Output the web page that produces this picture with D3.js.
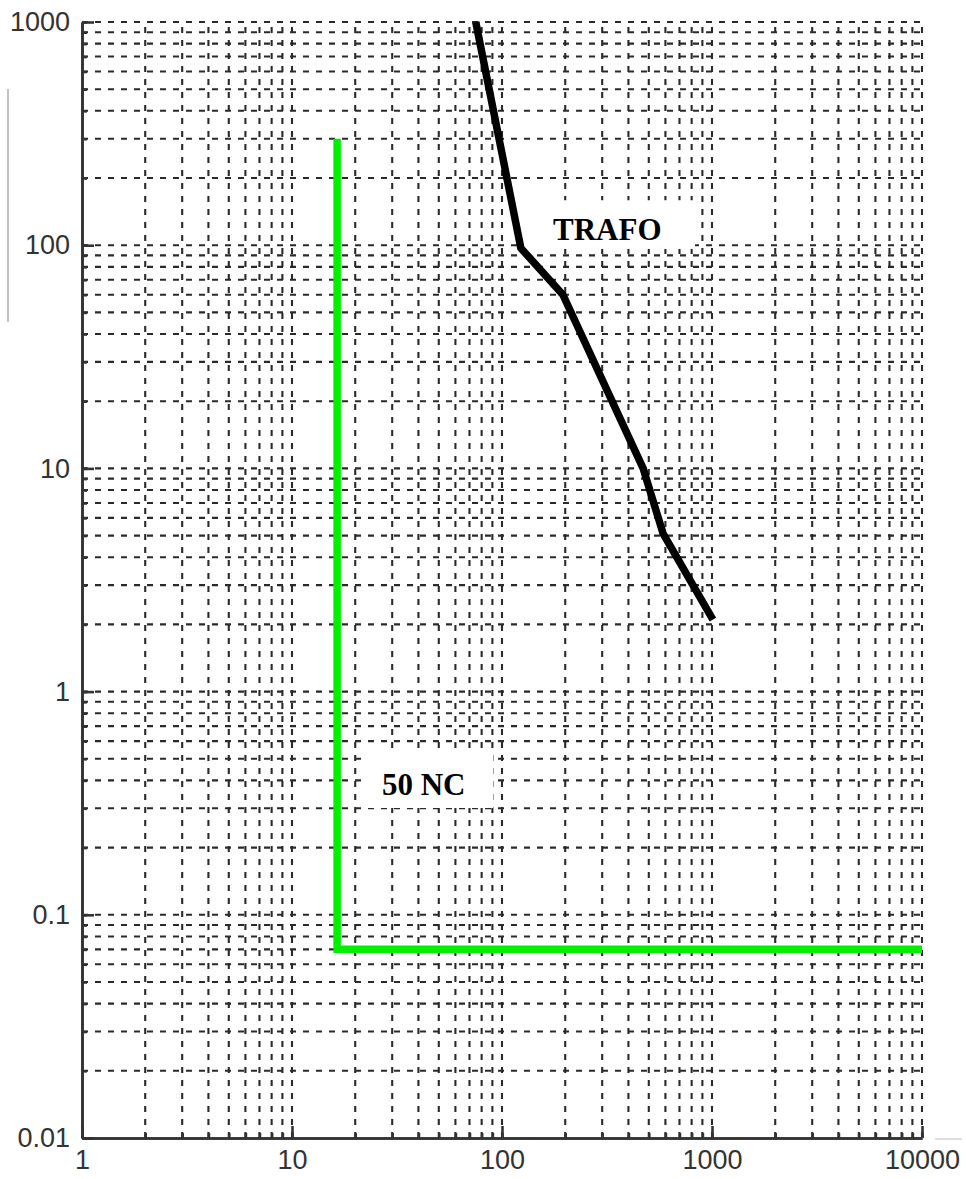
<!DOCTYPE html>
<head>
  <meta charset="utf-8">
  <title>TRAFO / 50 NC</title>
  <script src="https://d3js.org/d3.v7.min.js"></script>
  <style>
    body { margin: 0; background: #fff; }
    #chart { width: 966px; height: 1179px; display: block; }
    .grid line { stroke: #2a2a2a; stroke-width: 2.1px; stroke-dasharray: 6,7; }
    .axis path, .axis line { stroke: #333; stroke-width: 2.6px; }
    .axis text { font-family: "Liberation Sans", Arial, sans-serif; font-size: 27px; fill: #333; }
    .lbl { font-family: "Liberation Serif", "Times New Roman", serif; font-weight: bold; font-size: 31px; fill: #000; }
  </style>
</head>

<body>
  <svg id="chart"></svg>
  <script>
    // axis ticks
    var xTicks = [1, 10, 100, 1000, 10000];
    var yTicks = [0.01, 0.1, 1, 10, 100, 1000];

    // TRAFO damage curve (current, time)
    var trafoX = [75, 123, 195, 470, 585, 1010];
    var trafoY = [1000, 97, 60, 10, 5.1, 2.1];

    // 50 NC relay curve
    var ncX = [16.4, 16.4, 10000];
    var ncY = [300, 0.07, 0.07];

    var width = 966, height = 1179;
    var margin = {left: 82, right: 44, top: 22, bottom: 41};

    var svg = d3.select("#chart");

    var x = d3.scaleLog().domain([1, 10000]).range([margin.left, width - margin.right]);
    var y = d3.scaleLog().domain([0.01, 1000]).range([height - margin.bottom, margin.top]);

    // every 1..9 x 10^n between the decades
    function minors(ticks) {
      var out = [];
      for (var i = 0; i < ticks.length - 1; i++) {
        for (var k = 1; k < 10; k++) out.push(ticks[i] * k);
      }
      out.push(ticks[ticks.length - 1]);
      return out;
    }
    var xGrid = minors(xTicks);
    var yGrid = minors(yTicks);

    // dashed grid
    var grid = svg.append("g").attr("class", "grid");
    grid.selectAll(".gx").data(xGrid.slice(1)).enter().append("line")
      .attr("x1", function(d) { return x(d); })
      .attr("x2", function(d) { return x(d); })
      .attr("y1", y.range()[0])
      .attr("y2", y.range()[1]);
    grid.selectAll(".gy").data(yGrid.slice(1)).enter().append("line")
      .attr("x1", x.range()[0])
      .attr("x2", x.range()[1])
      .attr("y1", function(d) { return y(d); })
      .attr("y2", function(d) { return y(d); });

    var fmt = function(d) { return d >= 1 ? d3.format("d")(d) : String(d); };

    // minor ticks, inside
    svg.append("g").attr("class", "axis")
      .attr("transform", "translate(0," + y.range()[0] + ")")
      .call(d3.axisBottom(x).tickValues(xGrid).tickSize(-5).tickSizeOuter(0).tickFormat(""));
    svg.append("g").attr("class", "axis")
      .attr("transform", "translate(" + x.range()[0] + ",0)")
      .call(d3.axisLeft(y).tickValues(yGrid).tickSize(-5).tickSizeOuter(0).tickFormat(""));

    // major ticks + labels
    svg.append("g").attr("class", "axis")
      .attr("transform", "translate(0," + y.range()[0] + ")")
      .call(d3.axisBottom(x).tickValues(xTicks).tickSize(-12).tickSizeOuter(0).tickPadding(12).tickFormat(fmt));
    svg.append("g").attr("class", "axis")
      .attr("transform", "translate(" + x.range()[0] + ",0)")
      .call(d3.axisLeft(y).tickValues(yTicks).tickSize(-12).tickSizeOuter(0).tickPadding(12).tickFormat(fmt));

    // stray scan marks of the original figure
    svg.append("line").attr("x1", 8).attr("x2", 8).attr("y1", 89).attr("y2", 322)
      .attr("stroke", "#999").attr("stroke-width", 1.2);
    svg.append("line").attr("x1", 935).attr("x2", 962).attr("y1", 1139).attr("y2", 1139)
      .attr("stroke", "#bbb").attr("stroke-width", 1);

    // white label boxes
    function box(x0, x1, y0, y1) {
      svg.append("rect")
        .attr("x", x(x0)).attr("y", y(y0))
        .attr("width", x(x1) - x(x0)).attr("height", y(y1) - y(y0))
        .attr("fill", "#fff");
    }
    box(124.5, 830, 159, 96.2);
    box(21.5, 90.6, 0.525, 0.301);

    var line = d3.line()
      .x(function(d) { return x(d[0]); })
      .y(function(d) { return y(d[1]); });

    svg.append("path")
      .datum(d3.zip(ncX, ncY))
      .attr("d", line)
      .attr("fill", "none")
      .attr("stroke", "#00f000")
      .attr("stroke-width", 7.5);

    svg.append("path")
      .datum(d3.zip(trafoX, trafoY))
      .attr("d", line)
      .attr("fill", "none")
      .attr("stroke", "#000")
      .attr("stroke-width", 7.5)
      .attr("stroke-linejoin", "round");

    svg.append("text").attr("class", "lbl")
      .attr("x", x(175)).attr("y", y(105.5)).text("TRAFO");
    svg.append("text").attr("class", "lbl")
      .attr("x", x(26.8)).attr("y", y(0.344)).text("50 NC");
  </script>
</body>
</html>
